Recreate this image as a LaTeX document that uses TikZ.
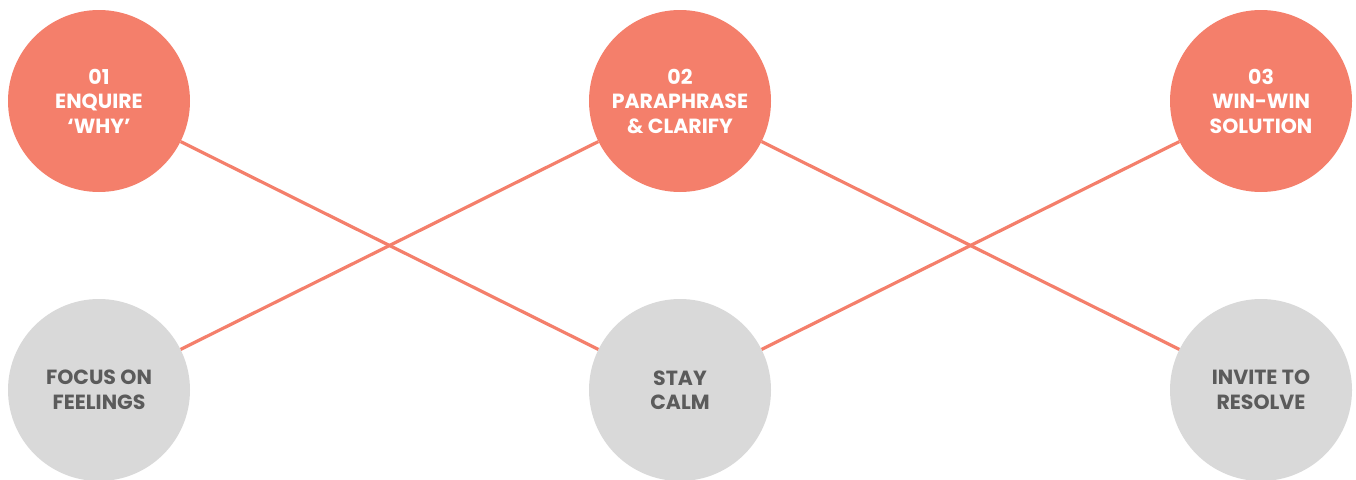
\documentclass[tikz,border=0pt]{standalone}
\usepackage{fontspec}
\setmainfont{Poppins}
\definecolor{salmon}{HTML}{F47F6B}
\definecolor{lightgray}{HTML}{D9D9D9}
\definecolor{textgray}{HTML}{5B5B5B}
\tikzset{
  circbase/.style={circle, minimum size=182pt, inner sep=0pt, font=\fontsize{20.5}{24.5}\selectfont\bfseries, align=center},
  topcirc/.style={circbase, fill=salmon, text=white},
  botcirc/.style={circbase, fill=lightgray, text=textgray},
  link/.style={draw=salmon, line width=3.2pt}
}
\begin{document}
\begin{tikzpicture}[x=1pt,y=-1pt]
\useasboundingbox (0,0) rectangle (1356,479);
\node[topcirc] (t1) at (99,101) {\raisebox{3pt}{\parbox{170pt}{\centering 01\\ENQUIRE\\‘WHY’}}};
\node[topcirc] (t2) at (680,101) {\raisebox{3pt}{\parbox{170pt}{\centering 02\\PARAPHRASE\\\& CLARIFY}}};
\node[topcirc] (t3) at (1261,101) {\raisebox{3pt}{\parbox{170pt}{\centering 03\\WIN-WIN\\SOLUTION}}};
\node[botcirc] (b1) at (99,390) {FOCUS ON\\FEELINGS};
\node[botcirc] (b2) at (680,390) {STAY\\CALM};
\node[botcirc] (b3) at (1261,390) {INVITE TO\\RESOLVE};
\draw[link] (t1) -- (b2);
\draw[link] (t2) -- (b1);
\draw[link] (t2) -- (b3);
\draw[link] (t3) -- (b2);
\end{tikzpicture}
\end{document}
